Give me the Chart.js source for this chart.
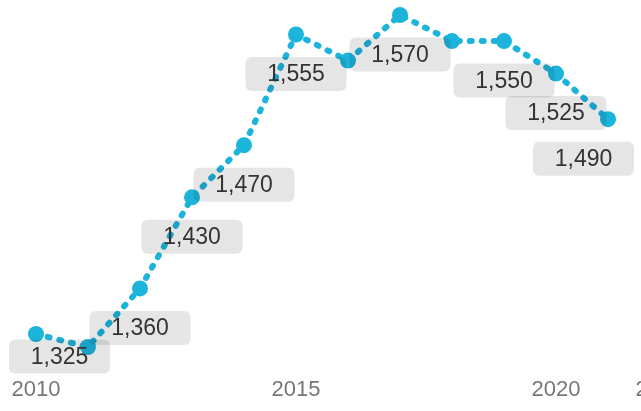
<!DOCTYPE html>
<html>
<head>
<meta charset="utf-8">
<script src="https://cdn.jsdelivr.net/npm/chart.js@4"></script>
<style>
  html, body { margin: 0; padding: 0; background: #ffffff; }
  #wrap { width: 641px; height: 411px; overflow: hidden; position: relative; }
  canvas { display: block; }
</style>
</head>
<body>
<div id="wrap"><canvas id="c" width="720" height="411"></canvas></div>
<script>
// ---- data ----
const years  = [2010, 2011, 2012, 2013, 2014, 2015, 2016, 2017, 2018, 2019, 2020, 2021];
const values = [1325, 1315, 1360, 1430, 1470, 1555, 1535, 1570, 1550, 1550, 1525, 1490];
// which points carry a value label
const labelled = [true, false, true, true, true, true, false, true, false, true, true, true];
const tickYears  = [2010, 2015, 2020, 2022];
const tickLabels = ['2010', '2015', '2020', '2022'];

const LINE_COLOR = '#1db4dc';
const FONT = '"Liberation Sans", Arial, sans-serif';

const fmt = v => v.toLocaleString('en-US');

const labelBoxes = {
  id: 'labelBoxes',
  afterDatasetsDraw(chart) {
    const ctx = chart.ctx;
    const meta = chart.getDatasetMeta(0);
    const area = chart.chartArea;
    const W = 101, H = 34, R = 6, OFF = 39.5;
    const minX = 9, maxX = 634;
    ctx.save();
    meta.data.forEach((pt, i) => {
      if (!labelled[i]) return;
      let cx = pt.x;
      let cy = pt.y + OFF;
      cx = Math.max(minX + W / 2, Math.min(maxX - W / 2, cx));
      cy = Math.min(area.bottom - H / 2, cy);
      ctx.beginPath();
      ctx.roundRect(cx - W / 2, cy - H / 2, W, H, R);
      ctx.fillStyle = 'rgba(0,0,0,0.1)';
      ctx.fill();
      ctx.fillStyle = '#333333';
      ctx.font = '23px ' + FONT;
      ctx.textAlign = 'center';
      ctx.textBaseline = 'middle';
      ctx.fillText(fmt(values[i]), cx, cy + 1);
    });
    ctx.restore();
  }
};

new Chart(document.getElementById('c'), {
  type: 'line',
  data: {
    datasets: [{
      data: years.map((y, i) => ({ x: y, y: values[i] })),
      borderColor: LINE_COLOR,
      backgroundColor: LINE_COLOR,
      borderWidth: 6,
      borderDash: [2, 10],
      borderCapStyle: 'round',
      borderJoinStyle: 'round',
      pointRadius: 8,
      pointBorderWidth: 0,
      pointBackgroundColor: LINE_COLOR,
      tension: 0,
      fill: false,
      clip: false
    }]
  },
  options: {
    responsive: false,
    animation: false,
    devicePixelRatio: 1,
    layout: { autoPadding: false, padding: { top: 0, left: 0, right: 0, bottom: 5 } },
    plugins: { legend: { display: false }, tooltip: { enabled: false } },
    scales: {
      x: {
        type: 'linear',
        min: 2009.3077,
        max: 2023.1538,
        grid: { display: false, drawTicks: false },
        border: { display: false },
        afterBuildTicks: s => { s.ticks = tickYears.map(v => ({ value: v })); },
        ticks: {
          padding: 3,
          autoSkip: false,
          maxRotation: 0,
          color: '#777777',
          font: { family: FONT, size: 22 },
          callback: v => tickLabels[tickYears.indexOf(v)]
        }
      },
      y: {
        display: false,
        min: 1294.59,
        max: 1581.52
      }
    }
  },
  plugins: [labelBoxes]
});
</script>
</body>
</html>
